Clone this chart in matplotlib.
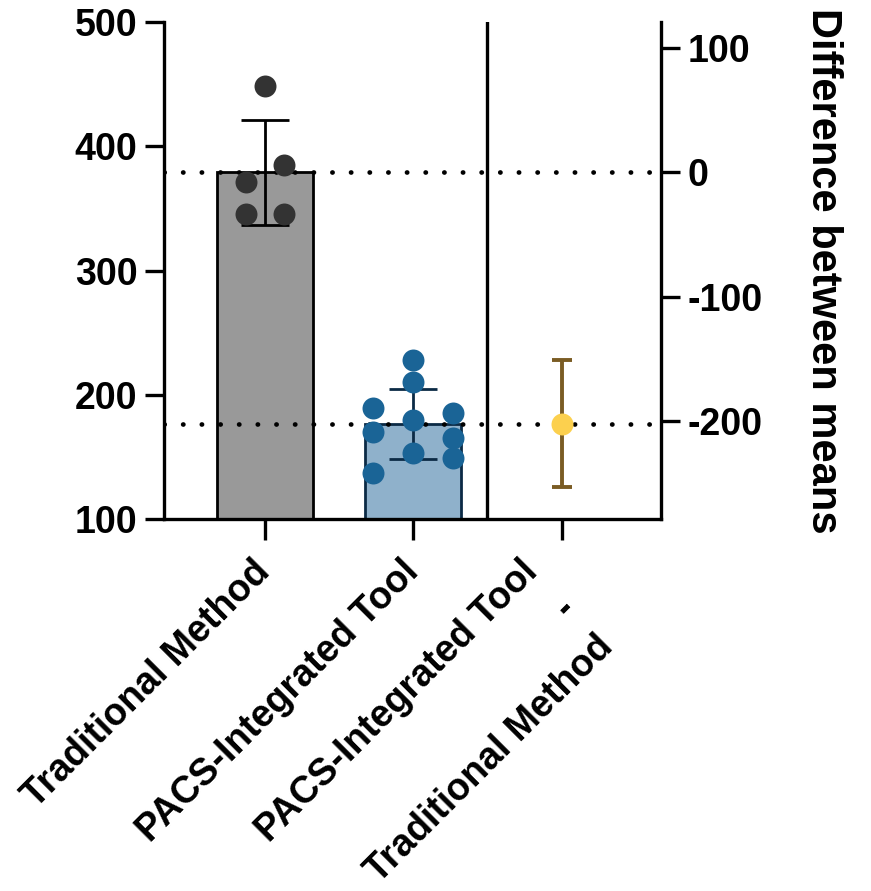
import matplotlib
matplotlib.use('Agg')
import matplotlib.pyplot as plt
import matplotlib.transforms as mtransforms
import numpy as np

# values
categories = ['Traditional Method', 'PACS-Integrated Tool',
              'PACS-Integrated Tool\n-\nTraditional Method']
traditional = [448.5, 384.9, 371.0, 345.5, 345.5]
pacs_tool = [228.0, 210.5, 189.6, 185.0, 179.7, 170.0, 165.2, 153.3, 149.0, 137.0]
diff_ci_low = -253.0
diff_ci_high = -151.0

# layout only: horizontal spread of the dots within each column
trad_spread = [0.0, 0.13, -0.13, -0.13, 0.13]
pacs_spread = [0.0, 0.0, -0.27, 0.27, 0.0, -0.27, 0.27, 0.0, 0.27, -0.27]

plt.rcParams['font.family'] = ['Liberation Sans', 'DejaVu Sans']
plt.rcParams['font.weight'] = 'bold'
plt.rcParams['axes.unicode_minus'] = False

trad_mean = np.mean(traditional)
pacs_mean = np.mean(pacs_tool)
trad_sd = np.std(traditional, ddof=1)
pacs_sd = np.std(pacs_tool, ddof=1)
diff_mean = pacs_mean - trad_mean

fig = plt.figure(figsize=(8.71, 8.91), dpi=100)
ax = fig.add_axes([0.1883, 0.4175, 0.5706, 0.5578])

lw = 2.4
fs = 27
# bars
ax.bar(0, trad_mean, width=0.65, bottom=0, color='#999999', edgecolor='black',
       linewidth=2, zorder=2)
ax.bar(1, pacs_mean, width=0.65, bottom=0, color='#8fb1cb', edgecolor='#0b2a45',
       linewidth=2, zorder=2)

# mean lines
dots = (0, (0.05, 3.9))
ax.axhline(trad_mean, color='black', lw=3.4, ls=dots, dash_capstyle='round', zorder=3)
ax.axhline(pacs_mean, color='black', lw=3.4, ls=dots, dash_capstyle='round', zorder=3)

# sd bars
ax.errorbar(0, trad_mean, yerr=trad_sd, color='black', lw=2, capsize=17.6,
            capthick=2, zorder=4)
ax.errorbar(1, pacs_mean, yerr=pacs_sd, color='#0b2a45', lw=2, capsize=17.6,
            capthick=2, zorder=4)

# dots
ax.scatter(np.array(trad_spread), traditional, s=250, color='#333333',
           linewidths=0, zorder=5)
ax.scatter(1 + np.array(pacs_spread), pacs_tool, s=250, color='#1a6496',
           linewidths=0, zorder=5)

ax.axvline(1.5, color='black', lw=lw, zorder=3)

ax.set_xlim(-0.68, 2.67)
ax.set_ylim(100, 500)
ax.set_yticks([100, 200, 300, 400, 500])
ax.set_xticks([0, 1, 2])
ax.set_xticklabels([])
ax.tick_params(axis='y', labelsize=fs, width=lw, length=14, pad=5)
ax.tick_params(axis='x', width=lw, length=15)
for s in ['top', 'right']:
    ax.spines[s].set_visible(False)
for s in ['left', 'bottom']:
    ax.spines[s].set_linewidth(lw)

# category labels, rotated, right end near the tick
label_dx = [-9.4, -9.4, -30.0]
for i, name in enumerate(categories):
    off = mtransforms.ScaledTranslation(label_dx[i] / 72, -25.2 / 72,
                                        fig.dpi_scale_trans)
    ax.text(i, 0, name, transform=ax.get_xaxis_transform() + off,
            rotation=45, rotation_mode='anchor', ha='right', va='top',
            multialignment='right', linespacing=1.6,
            fontsize=fs, fontweight='bold', clip_on=False)

# difference axis
ax2 = ax.twinx()
ax2.set_ylim(100 - trad_mean, 500 - trad_mean)
ax2.set_yticks([100, 0, -100, -200])
ax2.errorbar(2, diff_mean,
             yerr=[[diff_mean - diff_ci_low], [diff_ci_high - diff_mean]],
             fmt='none', ecolor='#7a5c24', elinewidth=2.8, capsize=7.5,
             capthick=2.8, zorder=4)
ax2.scatter([2], [diff_mean], s=250, color='#fcd04e', linewidths=0, zorder=5)
ax2.tick_params(axis='y', labelsize=fs, width=lw, length=14, pad=5)
for s in ['top', 'left', 'bottom']:
    ax2.spines[s].set_visible(False)
ax2.spines['right'].set_linewidth(lw)
ax2.set_ylabel('Difference between means', rotation=270, fontsize=30,
               fontweight='bold', labelpad=58)

fig.savefig('out.png', dpi=100)
